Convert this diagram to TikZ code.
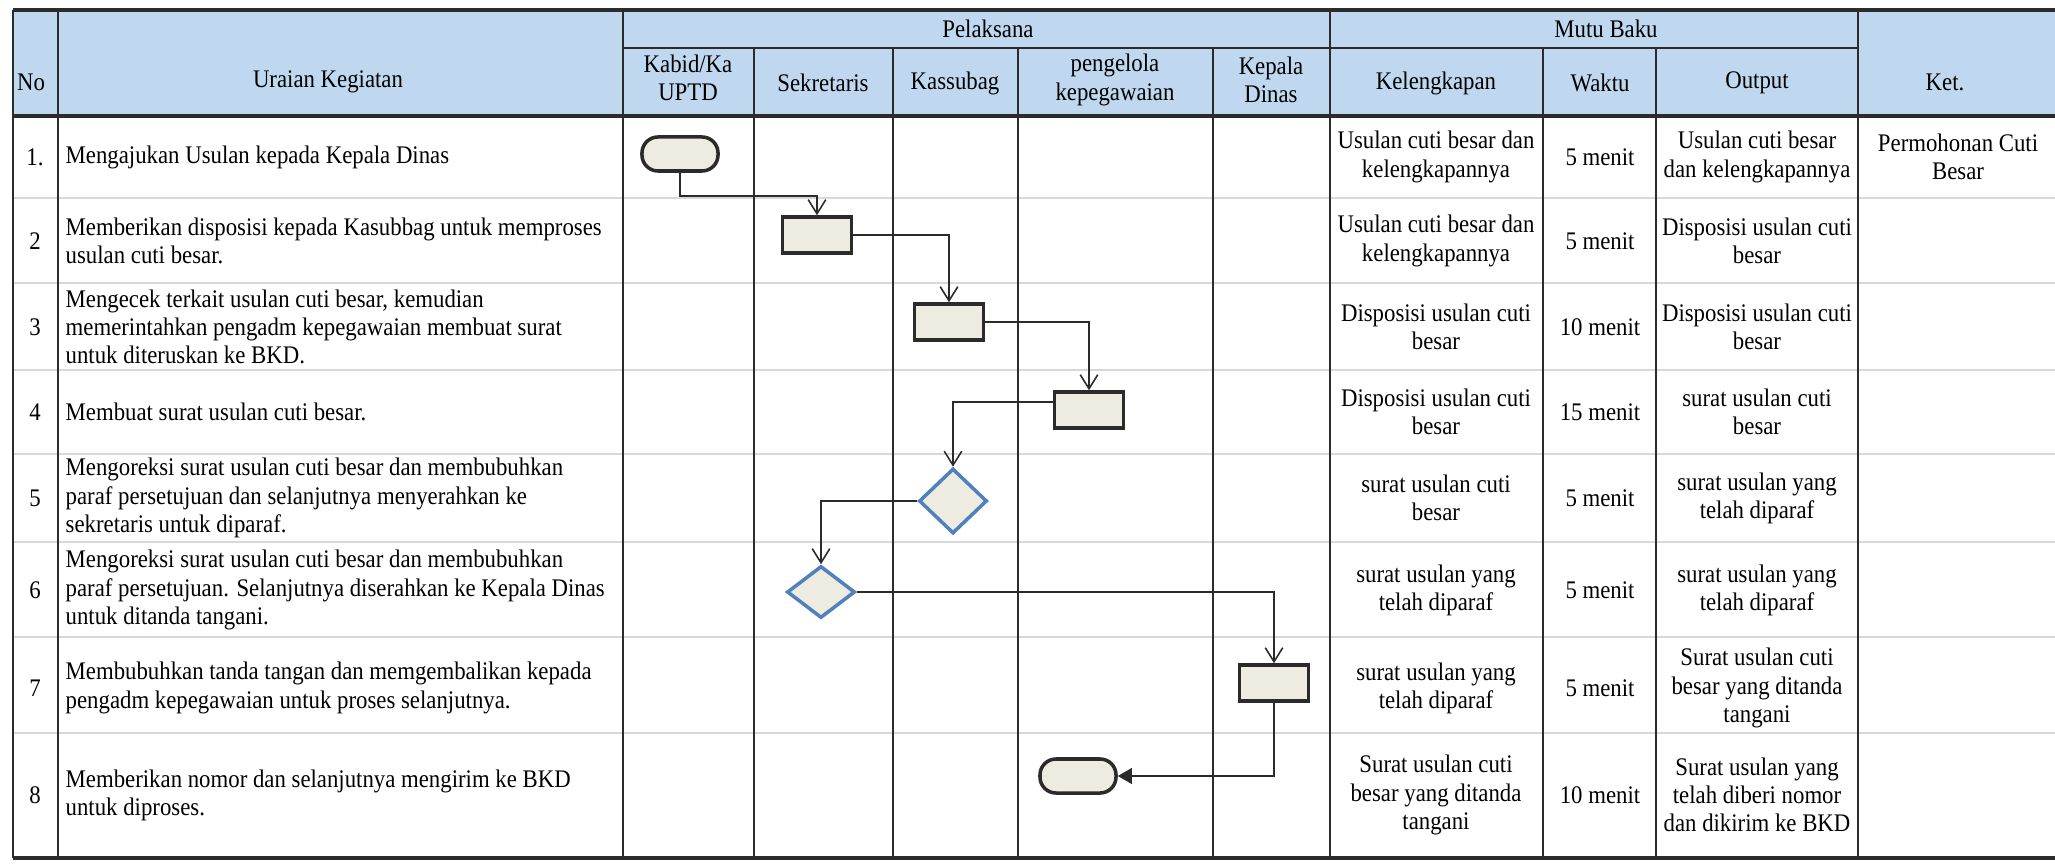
\documentclass[tikz,border=0pt]{standalone}
\usepackage{fontspec}
\setmainfont{Liberation Serif}[FakeStretch=0.9]
\usetikzlibrary{arrows.meta,shapes.geometric,calc}
\definecolor{headblue}{HTML}{BFD8F0}
\definecolor{shapefill}{HTML}{EEECE1}
\definecolor{diaedge}{HTML}{4F81BD}
\definecolor{rulegray}{HTML}{D8D8D8}
\definecolor{inkgray}{HTML}{2B2B2B}

\begin{document}
\begin{tikzpicture}[x=0.01cm,y=-0.01cm,
 txt/.style={font=\fontsize{7.2}{8}\selectfont,inner sep=0pt,align=center},
 term/.style={draw=inkgray,line width=1pt,fill=shapefill,rounded corners=0.16cm,
  minimum width=0.76cm,minimum height=0.34cm,inner sep=0pt},
 proc/.style={draw=inkgray,line width=1pt,fill=shapefill,minimum width=0.69cm,
  minimum height=0.36cm,inner sep=0pt},
 dec/.style={diamond,draw=diaedge,line width=1pt,fill=shapefill,minimum width=0.68cm,
  minimum height=0.52cm,inner sep=0pt},
 flow/.style={draw=inkgray,line width=0.45pt,-{Straight Barb[length=4pt,width=5pt]}},
 tabline/.style={draw=inkgray,line width=0.6pt},
 rowline/.style={draw=rulegray,line width=0.5pt}]
\useasboundingbox (0,0) rectangle (2055,864);

\fill[headblue] (13,10) rectangle (2055,116);
\foreach \y in {198,283,370,454,542,637,733}
 \draw[rowline] (13,\y) -- (2055,\y);
\foreach \x in {13,58,623,1330,1858}
 \draw[tabline] (\x,10) -- (\x,858);
\foreach \x in {754,893,1018,1213,1543,1656}
 \draw[tabline] (\x,48) -- (\x,858);
\draw[tabline,line width=0.9pt] (13,10) -- (2055,10);
\draw[tabline] (623,48) -- (1858,48);
\draw[tabline,line width=0.9pt] (13,116) -- (2055,116);
\draw[tabline,line width=0.9pt] (13,858) -- (2055,858);

\node[txt] (hno) at (31,82) {No};
\node[txt] (hura) at (328,82) {Uraian Kegiatan};
\node[txt] (hpel) at (988,29) {Pelaksana};
\node[txt] (hmutu) at (1606,29) {Mutu Baku};
\node[txt] (hket) at (1945,82) {Ket.};
\node[txt] (hkabid) at (688,78) {Kabid/Ka\\UPTD};
\node[txt] (hsekr) at (823,83) {Sekretaris};
\node[txt] (hkass) at (955,83) {Kassubag};
\node[txt] (hpeng) at (1115,80) {pengelola\\kepegawaian};
\node[txt] (hkadis) at (1271,80) {Kepala\\Dinas};
\node[txt] (hkel) at (1436,83) {Kelengkapan};
\node[txt] (hwkt) at (1600,83) {Waktu};
\node[txt] (hout) at (1757,83) {Output};

\foreach \r/\ym/\nr/\ura/\kel/\wkt/\outp in {
 1/157/1./{Mengajukan Usulan kepada Kepala Dinas}/{Usulan cuti besar dan\\kelengkapannya}/5 menit/{Usulan cuti besar\\dan kelengkapannya},
 2/241/2/{Memberikan disposisi kepada Kasubbag untuk memproses\\usulan cuti besar.}/{Usulan cuti besar dan\\kelengkapannya}/5 menit/{Disposisi usulan cuti\\besar},
 3/327/3/{Mengecek terkait usulan cuti besar, kemudian\\memerintahkan pengadm  kepegawaian membuat surat\\untuk diteruskan ke BKD.}/{Disposisi usulan cuti\\besar}/10 menit/{Disposisi usulan cuti\\besar},
 4/412/4/{Membuat surat usulan cuti besar.}/{Disposisi usulan cuti\\besar}/15 menit/{surat usulan cuti\\besar},
 5/498/5/{Mengoreksi  surat usulan cuti besar dan membubuhkan\\paraf persetujuan dan selanjutnya menyerahkan ke\\sekretaris untuk diparaf.}/{surat usulan cuti\\besar}/5 menit/{surat usulan yang\\telah diparaf},
 6/590/6/{Mengoreksi  surat usulan cuti besar dan  membubuhkan\\paraf persetujuan. Selanjutnya diserahkan ke Kepala Dinas\\untuk ditanda tangani.}/{surat usulan yang\\telah diparaf}/5 menit/{surat usulan yang\\telah diparaf},
 7/688/7/{Membubuhkan tanda tangan dan memgembalikan kepada\\pengadm kepegawaian untuk proses selanjutnya.}/{surat usulan yang\\telah diparaf}/5 menit/{Surat usulan cuti\\besar yang ditanda\\tangani},
 8/795/8/{Memberikan nomor dan selanjutnya mengirim ke BKD\\untuk diproses.}/{Surat usulan cuti\\besar yang ditanda\\tangani}/10 menit/{Surat usulan yang\\telah diberi nomor\\dan dikirim ke BKD}}{
 \node[txt] (n\r) at (35,\ym) {\nr};
 \node[txt,anchor=west,align=left] (u\r) at (65,\ym) {\ura};
 \node[txt] (k\r) at (1436,\ym) {\kel};
 \node[txt] (w\r) at (1600,\ym) {\wkt};
 \node[txt] (o\r) at (1757,\ym) {\outp};
}
\node[txt] (ket1) at (1958,157) {Permohonan Cuti\\Besar};

\node[term] (t1) at (680,154) {};
\node[proc] (p2) at (817,235) {};
\node[proc] (p3) at (949,322) {};
\node[proc] (p4) at (1089,410) {};
\node[dec,minimum height=0.65cm] (d5) at (953,501) {};
\node[dec] (d6) at (821,592) {};
\node[proc] (p7) at (1274,683) {};
\node[term] (t8) at (1078,776) {};

\draw[flow] (t1.south) -- ++(0,23) -| (p2.north);
\draw[flow] (p2.east) -| (p3.north);
\draw[flow] (p3.east) -| (p4.north);
\draw[flow] ([yshift=0.08cm]p4.west) -| (d5.north);
\draw[flow] (d5.west) -| (d6.north);
\draw[flow] (d6.east) -| (p7.north);
\draw[flow,-{Triangle[length=4pt,width=4.5pt]}] (p7.south) |- (t8.east);
\end{tikzpicture}
\end{document}
